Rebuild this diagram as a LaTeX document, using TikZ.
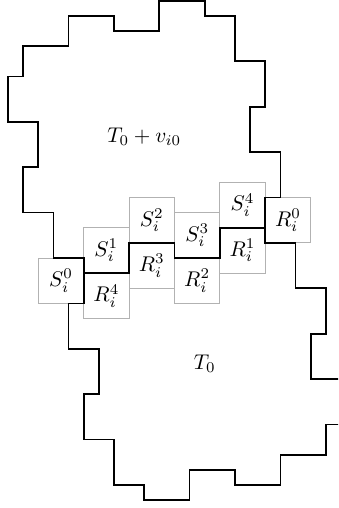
\documentclass[tikz,border=0pt]{standalone}
\usepackage{amsmath, amssymb}
\usepackage{xcolor}
\usepackage{tikz}

\begin{document}
\begin{tikzpicture}[x=0.25cm, y=-0.25cm,
	cellbox/.style={draw=gray!60},
	cell/.style={inner sep=1pt},
	border/.style={thick, line join=miter}]
	% Frame and clipping:
	\clip (-0.53, -0.05) rectangle (21.81, 33.52);
	% Boxes S and R:
	\node[cell] (S0) at (3.5, 18.5){$S_i^0$};
	\node[cell] (S1) at (6.5, 16.5){$S_i^1$};
	\node[cell] (S2) at (9.5, 14.5){$S_i^2$};
	\node[cell] (S3) at (12.5, 15.5){$S_i^3$};
	\node[cell] (S4) at (15.5, 13.5){$S_i^4$};
	\node[cell] (R0) at (18.5, 14.5){$R_i^0$};
	\node[cell] (R1) at (15.5, 16.5){$R_i^1$};
	\node[cell] (R2) at (12.5, 18.5){$R_i^2$};
	\node[cell] (R3) at (9.5, 17.5){$R_i^3$};
	\node[cell] (R4) at (6.5, 19.5){$R_i^4$};
	\foreach \c in {S0, S1, S2, S3, S4, R0, R1, R2, R3, R4}
		\draw[cellbox] (\c.center) +(-1.5, -1.5) rectangle +(1.5, 1.5);
	% Upper region T_0 + v_{i0}:
	\draw[border] (10, 0) -- (13, 0) -- (13, 1) -- (15, 1) -- (15, 4) -- (17, 4) -- (17, 7) -- (16, 7) -- (16, 10) -- (18, 10) -- (18, 13) -- (17, 13) -- (17, 15) -- (14, 15) -- (14, 17) -- (11, 17) -- (11, 16) -- (8, 16) -- (8, 18) -- (5, 18) -- (5, 17) -- (3, 17) -- (3, 14) -- (1, 14) -- (1, 11) -- (2, 11) -- (2, 8) -- (0, 8) -- (0, 5) -- (1, 5) -- (1, 3) -- (4, 3) -- (4, 1) -- (7, 1) -- (7, 2) -- (10, 2) -- cycle;
	% Lower region T_0:
	\draw[border] (22, 25) -- (20, 25) -- (20, 22) -- (21, 22) -- (21, 19) -- (19, 19) -- (19, 16) -- (17, 16) -- (17, 15) -- (14, 15) -- (14, 17) -- (11, 17) -- (11, 16) -- (8, 16) -- (8, 18) -- (5, 18) -- (5, 20) -- (4, 20) -- (4, 23) -- (6, 23) -- (6, 26) -- (5, 26) -- (5, 29) -- (7, 29) -- (7, 32) -- (9, 32) -- (9, 33) -- (12, 33) -- (12, 31) -- (15, 31) -- (15, 32) -- (18, 32) -- (18, 30) -- (21, 30) -- (21, 28) -- (22, 28);
	% Labels:
	\node (upper) at (9, 9){$T_0 + v_{i0}$};
	\node (lower) at (13, 24){$T_0$};
\end{tikzpicture}
\end{document}
